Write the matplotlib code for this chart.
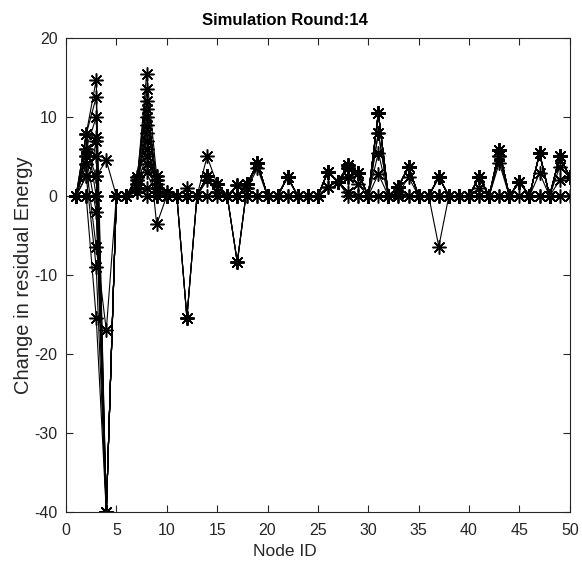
import matplotlib
matplotlib.use("Agg")
import matplotlib.pyplot as plt

plt.rcParams['font.family'] = ['Liberation Sans', 'DejaVu Sans']
plt.rcParams['axes.unicode_minus'] = False

node_ids = list(range(1, 51))

# change in residual energy per node, one list per simulation round
r01 = [0, 0, 0, -40, 0, 0, 0.5, 1, 0, 0, 0, 0, 0, 0, 0, 0, 0, 0, 0, 0, 0, 0, 0, 0, 0, 1.2, 1.8, 0, 0, 0, 0, 0, 0, 0, 0, 0, 0, 0, 0, 0, 0, 0, 0, 0, 0, 0, 0, 0, 0, 0]
r02 = [0, 2.5, 2.5, -40, 0, 0, 1, 3, 0, 0, 0, 0, 0, 2, 0.5, 0, 0, 0, 0, 0, 0, 0, 0, 0, 0, 1.2, 1.8, 0.5, 0, 0, 2.8, 0, 0, 0, 0, 0, 0, 0, 0, 0, 0, 0, 0, 0, 1.8, 0, 0, 0, 2, 2.4]
r03 = [0, 4, 5, -40, 0, 0, 1, 4, 1, 0, 0, 0, 0, 2.5, 0.5, 0, 0, 1, 3.5, 0, 0, 2.4, 0, 0, 0, 3.1, 1.8, 2.4, 1.5, 0, 5.5, 0, 0.3, 2.4, 0, 0, 0, 0, 0, 0, 1, 0, 4.2, 0, 1.8, 0, 2.9, 0, 3.7, 2.4]
r04 = [0, 5, 7.5, -40, 0, 0, 1.5, 5, 2, 0.5, 0, 0, 0, 2.5, 1.5, 0, 1.4, 1.5, 4.2, 0, 0, 2.4, 0, 0, 0, 3.1, 1.8, 3.9, 2.9, 0, 8, 0, 1.2, 3.7, 0, 0, 2.4, 0, 0, 0, 2.4, 0, 5, 0, 1.8, 0, 5.4, 0, 5, 2.4]
r05 = [0, 6, 10, -40, 0, 0, 2, 6, 2.5, 0, 0, 1, 0, 5, 1.5, 0, 1.4, 1.5, 4.2, 0, 0, 2.4, 0, 0, 0, 3.1, 1.8, 3.5, 2.9, 0, 10.5, 0, 1.2, 3.7, 0, 0, 2.4, 0, 0, 0, 2.4, 0, 5.8, 0, 1.8, 0, 5.4, 0, 5, 2.4]
r06 = [0, 7.8, 12.5, -40, 0, 0, 2.4, 7, 1, 0, 0, -15.4, 0, 2.5, 1.5, 0, -8.4, 1.5, 4.2, 0, 0, 2.4, 0, 0, 0, 3.1, 1.8, 2.4, 2.9, 0, 10.5, 0, 1.2, 3.7, 0, 0, -6.4, 0, 0, 0, 2.4, 0, 5.8, 0, 1.8, 0, 5.4, 0, 5, 2.4]
r07 = [0, 7.8, 14.7, -40, 0, 0, 1, 8, 0, 0.5, 0, -15.4, 0, 2.5, 1.5, 0, -8.4, 1.5, 4.2, 0, 0, 2.4, 0, 0, 0, 3.1, 1.8, 3.9, 2.9, 0, 10.5, 0, 1.2, 3.7, 0, 0, 2.4, 0, 0, 0, 2.4, 0, 5.8, 0, 1.8, 0, 5.4, 0, 5, 2.4]
r08 = [0, 5, -2, -40, 0, 0, 0.5, 9, -3.6, 0, 0, -15.4, 0, 2.5, 1.5, 0, -8.4, 1.5, 4.2, 0, 0, 2.4, 0, 0, 0, 3.1, 1.8, 3.5, 2.9, 0, 10.5, 0, 1.2, 3.7, 0, 0, 2.4, 0, 0, 0, 2.4, 0, 5, 0, 1.8, 0, 5.4, 0, 5, 2.4]
r09 = [0, 4, -6.5, -17, 0, 0, 1, 10, 1.5, 0, 0, 0, 0, 2.5, 1.5, 0, 0, 1, 4.2, 0, 0, 2.4, 0, 0, 0, 3.1, 1.8, 2.4, 2.9, 0, 8, 0, 1.2, 3.7, 0, 0, 2.4, 0, 0, 0, 2.4, 0, 5.8, 0, 1.8, 0, 5.4, 0, 5, 2.4]
r10 = [0, 2.5, -9, -40, 0, 0, 2, 11, 0.5, 0, 0, 0, 0, 2.5, 1.5, 0, 0, 1.5, 4.2, 0, 0, 2.4, 0, 0, 0, 3.1, 1.8, 3.9, 2.9, 0, 10.5, 0, 1.2, 3.7, 0, 0, 2.4, 0, 0, 0, 2.4, 0, 5.8, 0, 1.8, 0, 5.4, 0, 5, 2.4]
r11 = [0, 0, -15.4, -40, 0, 0, 1.5, 12, 2, 0, 0, -15.4, 0, 2.5, 1.5, 0, -8.4, 1.5, 4.2, 0, 0, 2.4, 0, 0, 0, 3.1, 1.8, 3.5, 2.9, 0, 10.5, 0, 1.2, 3.7, 0, 0, 2.4, 0, 0, 0, 2.4, 0, 5.8, 0, 1.8, 0, 5.4, 0, 5, 2.4]
r12 = [0, 6, 2.5, 4.5, 0, 0, 1.5, 13.5, 0, 0, 0, 0, 0, 2.5, 1.5, 0, 1.4, 1.5, 4.2, 0, 0, 2.4, 0, 0, 0, 3.1, 1.8, 3.9, 2.9, 0, 10.5, 0, 1.2, 3.7, 0, 0, 2.4, 0, 0, 0, 2.4, 0, 5.8, 0, 1.8, 0, 5.4, 0, 5, 2.4]
r13 = [0, 0, 7, -40, 0, 0, 1, 15.4, 2.5, 0, 0, 0, 0, 2.5, 1.5, 0, 0, 1.5, 4.2, 0, 0, 2.4, 0, 0, 0, 3.1, 1.8, 3.5, 2.9, 0, 10.5, 0, 1.2, 3.7, 0, 0, 2.4, 0, 0, 0, 2.4, 0, 5.8, 0, 1.8, 0, 5.4, 0, 5, 2.4]
r14 = [0, 7.8, 0, -40, 0, 0, 2.4, 0, 0, 0, 0, 0, 0, 2.5, 1.5, 0, 0, 1.5, 4.2, 0, 0, 2.4, 0, 0, 0, 3.1, 1.8, 3.9, 2.9, 0, 10.5, 0, 1.2, 3.7, 0, 0, 2.4, 0, 0, 0, 2.4, 0, 5.8, 0, 1.8, 0, 5.4, 0, 5, 2.4]
rounds = [r01, r02, r03, r04, r05, r06, r07, r08, r09, r10, r11, r12, r13, r14]

x_ticks = [0, 5, 10, 15, 20, 25, 30, 35, 40, 45, 50]
y_ticks = [-40, -30, -20, -10, 0, 10, 20]

fig = plt.figure(figsize=(5.82, 5.68), dpi=100)
ax = fig.add_axes([0.1134, 0.0986, 0.8656, 0.8345])

for vals in rounds:
    ax.plot(node_ids, vals, '-', color='black', linewidth=0.8,
            marker=(8, 2, 0), markersize=10, markeredgewidth=1.1)

ax.set_xlim(0, 50)
ax.set_ylim(-40, 20)
ax.set_xticks(x_ticks)
ax.set_yticks(y_ticks)
gray = '#262626'
for sp in ax.spines.values():
    sp.set_color(gray)
    sp.set_linewidth(0.8)
ax.tick_params(direction='in', length=5, width=0.8, colors=gray,
               labelsize=11.5, top=True, right=True,
               labeltop=False, labelright=False)
ax.tick_params(axis='x', pad=8)
ax.tick_params(axis='y', pad=6)
ax.set_xlabel('Node ID', fontsize=12.5, color=gray, x=0.4345, labelpad=4)
ax.set_ylabel('Change in residual Energy', fontsize=14.5, color=gray, labelpad=1)
ax.set_title('Simulation Round:14', fontsize=12, fontweight='bold',
             color='black', x=0.4345, pad=9)

fig.savefig('out.png', dpi=100)
